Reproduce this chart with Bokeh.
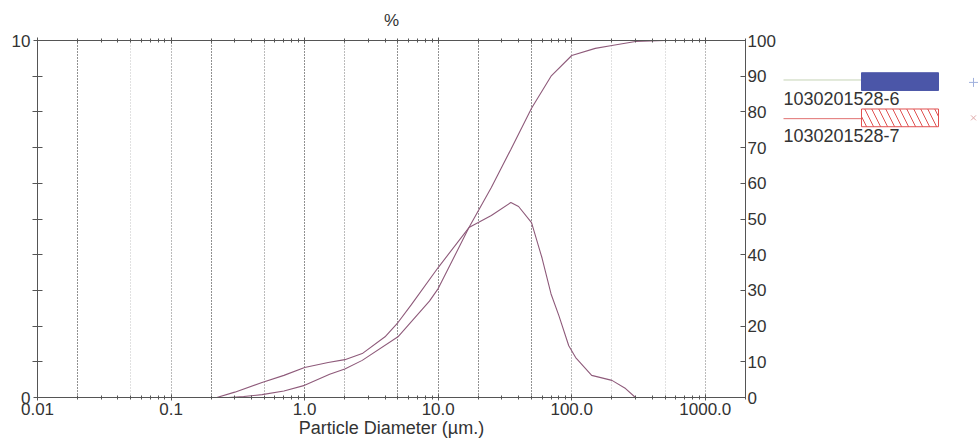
from bokeh.plotting import figure
from bokeh.models import LogAxis, LinearAxis, Range1d, FixedTicker, Grid
from bokeh.layouts import row
from bokeh.core.properties import value
from bokeh.embed import file_html
from bokeh.resources import INLINE

# ---- data ----
series_names = ["1030201528-6", "1030201528-7"]

# frequency distribution (left axis, 0-10)
diam_freq = [0.22, 0.3, 0.48, 0.7, 1.0, 1.5, 2.0, 2.7, 4.0, 5.0, 6.3, 10, 17, 25, 35, 40, 50, 60, 70, 80, 95, 107, 141, 200, 253, 300]
freq = [0, 0.15, 0.42, 0.62, 0.84, 0.98, 1.06, 1.23, 1.7, 2.1, 2.6, 3.64, 4.76, 5.1, 5.46, 5.35, 4.9, 3.9, 2.9, 2.3, 1.45, 1.12, 0.62, 0.48, 0.25, 0]

# cumulative distribution (right axis, %)
diam_cum = [0.27, 0.35, 0.48, 0.7, 1.0, 1.54, 2.0, 2.7, 5.0, 8.6, 10, 17, 25, 35, 50, 70, 100, 150, 200, 300, 500]
cum = [0, 0.3, 0.8, 1.8, 3.4, 6.5, 8.0, 10.4, 17, 27, 30.5, 47.6, 58.8, 69.5, 81, 90, 95.8, 97.8, 98.6, 99.7, 100]

x_ticks = [0.01, 0.1, 1, 10, 100, 1000]
x_tick_labels = ["0.01", "0.1", "1.0", "10.0", "100.0", "1000.0"]
x_minor = [k * 10.0 ** e for e in range(-2, 4) for k in range(2, 10) if k * 10.0 ** e <= 2000]
grid_dark = [0.02, 0.2, 1, 5, 10, 20, 50]
grid_mid = [0.1, 0.5, 2, 100, 1000]
grid_faint = [0.05, 200, 500]
left_ticks = [0, 10]
left_minor = [1, 2, 3, 4, 5, 6, 7, 8, 9]
right_ticks = list(range(0, 101, 10))

FONT = "Liberation Sans"
TXT = "#333333"
AX = "#555555"
CURVE = "#8e5a7a"

p = figure(width=778, height=443, x_axis_type="log",
           x_range=Range1d(0.01, 2000), y_range=Range1d(0, 10),
           output_backend="svg", toolbar_location=None,
           min_border_left=37, min_border_right=33,
           min_border_top=40, min_border_bottom=46)
p.outline_line_color = None
p.xgrid.visible = False
p.ygrid.visible = False
p.background_fill_color = "white"

# vertical dotted grid lines
for ticks, col, alpha in [(grid_faint, "#999999", 0.6), (grid_mid, "#555555", 0.8), (grid_dark, "#222222", 1.0)]:
    g = Grid(dimension=0, ticker=FixedTicker(ticks=ticks),
             grid_line_color=col, grid_line_alpha=alpha,
             grid_line_dash="1 2", grid_line_width=1)
    p.add_layout(g)

# bottom axis
xa = p.xaxis[0]
xa.ticker = FixedTicker(ticks=x_ticks, minor_ticks=x_minor)
xa.major_label_overrides = {t: l for t, l in zip(x_ticks, x_tick_labels)}
xa.axis_label = "Particle Diameter (µm.)"
xa.major_tick_in = 3
xa.major_tick_out = 3
xa.minor_tick_in = 2
xa.minor_tick_out = 2
xa.major_label_standoff = 2
xa.axis_label_standoff = 0

# top axis (ticks only, labels invisible)
ta = LogAxis(ticker=FixedTicker(ticks=x_ticks, minor_ticks=x_minor),
             axis_label="%", major_label_text_font_size="1px",
             major_label_text_alpha=0,
             major_tick_in=3, major_tick_out=3, minor_tick_in=2, minor_tick_out=2,
             major_label_standoff=0, axis_label_standoff=8)
p.add_layout(ta, "above")

# left axis
ya = p.yaxis[0]
ya.ticker = FixedTicker(ticks=left_ticks, minor_ticks=left_minor)
ya.major_tick_in = 4
ya.major_tick_out = 4
ya.minor_tick_in = 5
ya.minor_tick_out = 5
ya.major_label_standoff = 2
ya.major_label_text_baseline = "bottom"

# right axis
p.extra_y_ranges = {"pct": Range1d(0, 100)}
ra = LinearAxis(y_range_name="pct", ticker=FixedTicker(ticks=right_ticks),
                major_tick_in=5, major_tick_out=0, minor_tick_line_color=None,
                major_label_standoff=2, major_label_text_baseline="bottom")
p.add_layout(ra, "right")

for ax in [xa, ta, ya, ra]:
    ax.axis_line_color = AX
    ax.major_tick_line_color = AX
    if ax is not ra:
        ax.minor_tick_line_color = AX
    ax.major_label_text_font = FONT
    if ax is not ta:
        ax.major_label_text_font_size = "17px"
    ax.major_label_text_color = TXT
    ax.axis_label_text_font = FONT
    ax.axis_label_text_font_size = "18px"
    ax.axis_label_text_font_style = "normal"
    ax.axis_label_text_color = TXT
ta.axis_label_text_font_size = "17px"

# curves
p.line(diam_freq, freq, line_color=CURVE, line_width=1.1)
p.line(diam_cum, cum, y_range_name="pct", line_color=CURVE, line_width=1.1)

# ---- legend panel ----
leg = figure(width=200, height=443, x_range=Range1d(0, 200), y_range=Range1d(443, 0),
             x_axis_type=None, y_axis_type=None,
             output_backend="svg", toolbar_location=None, min_border=0)
leg.outline_line_color = None
leg.xgrid.visible = False
leg.ygrid.visible = False

leg.segment(x0=[5, 5], y0=[49, 97], x1=[83, 83], y1=[49, 97],
            line_color=["#c5d3b5", "#e07070"], line_width=1)
leg.quad(left=[83], right=[160], top=[40], bottom=[62],
         fill_color="#4b56a8", line_color="#4b56a8")
leg.quad(left=[83], right=[160], top=[85], bottom=[107],
         fill_color="white", line_color="#e05050",
         hatch_pattern="\\", hatch_color="#e05050", hatch_scale=14, hatch_weight=1)
leg.text(x=[5, 5], y=[72, 118], text=series_names,
         text_font=value(FONT), text_font_size="18px",
         text_baseline="middle", text_color=TXT)
leg.scatter(x=[195], y=[52], marker="cross", size=9, line_color="#9fb0dd")
leg.scatter(x=[195], y=[96], marker="x", size=7, line_color="#e0a8a8")

layout = row(p, leg)
open("out.html", "w").write(file_html(layout, INLINE))
